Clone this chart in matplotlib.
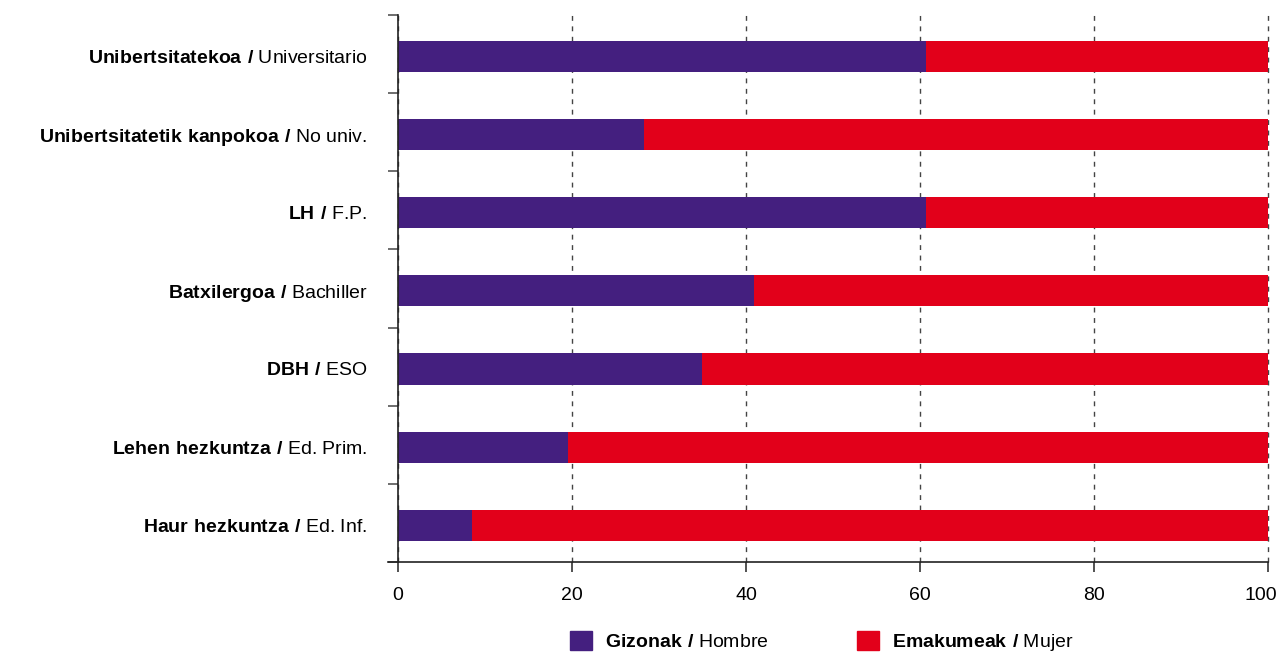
import matplotlib.pyplot as plt
import matplotlib.transforms as mtransforms
import numpy as np
from matplotlib.patches import Patch

plt.rcParams["font.family"] = ["Liberation Sans", "DejaVu Sans"]
plt.rcParams["mathtext.fontset"] = "custom"
plt.rcParams["mathtext.rm"] = "Liberation Sans"
plt.rcParams["mathtext.bf"] = "Liberation Sans:bold"

levels_eu = ["Unibertsitatekoa", "Unibertsitatetik kanpokoa", "LH", "Batxilergoa",
             "DBH", "Lehen hezkuntza", "Haur hezkuntza"]
levels_es = ["Universitario", "No univ.", "F.P.", "Bachiller", "ESO", "Ed. Prim.", "Ed. Inf."]
men = np.array([60.7, 28.3, 60.7, 40.9, 34.9, 19.5, 8.5])
women = 100 - men
x_ticks = [0, 20, 40, 60, 80, 100]

PURPLE = "#441f7f"
RED = "#e2001a"


def mixed(bold, regular):
    return r"$\bf{" + bold.replace(" ", r"\ ") + r"\ /}$ " + regular


fig = plt.figure(figsize=(12.8, 6.52), dpi=100)
ax = fig.add_axes([398 / 1280, 1 - 562 / 652, 870 / 1280, 547 / 652])

# bars sit a touch below the category centre in the original
y = np.arange(len(men)) + 0.03
ax.barh(y, men, height=0.4, color=PURPLE, zorder=2)
ax.barh(y, women, left=men, height=0.4, color=RED, zorder=2)

ax.set_xlim(0, 100)
ax.set_ylim(len(men) - 0.5, -0.5)
ax.set_xticks(x_ticks)
ax.set_yticks(y)
ax.set_yticklabels([mixed(b, r) for b, r in zip(levels_eu, levels_es)], fontsize=14)
ax.set_yticks(np.arange(len(men) + 1) - 0.5, minor=True)
ax.tick_params(axis="y", which="major", length=0, pad=22)
ax.tick_params(axis="y", which="minor", length=7, width=1.2, color="#555555")
ax.tick_params(axis="x", length=7, width=1.2, color="#333333", labelsize=14, pad=11)

ax.grid(axis="x", linestyle=(0, (3.5, 4)), color="#444444", linewidth=1.0)
ax.set_axisbelow(True)

# keep the "100" inside the picture, as the original does
fig.canvas.draw()
last = ax.get_xticklabels()[-1]
last.set_transform(last.get_transform() + mtransforms.ScaledTranslation(-7 / 100, 0, fig.dpi_scale_trans))
for line in ax.get_xgridlines():
    line.set_clip_on(False)

for side in ["top", "right"]:
    ax.spines[side].set_visible(False)
for side in ["left", "bottom"]:
    ax.spines[side].set_color("#222222")
    ax.spines[side].set_linewidth(1.2)
ax.spines["bottom"].set_bounds(-1.2, 100)
ax.spines["bottom"].set_clip_on(False)

handles = [Patch(color=PURPLE), Patch(color=RED)]
labels = [mixed("Gizonak", "Hombre"), mixed("Emakumeak", "Mujer")]
fig.legend(handles, labels, loc="center", bbox_to_anchor=(0.642, 0.015), ncol=2,
           frameon=False, fontsize=14, handlelength=1.13, handleheight=1.13,
           handletextpad=0.62, columnspacing=4.6, borderpad=0, borderaxespad=0)

fig.savefig("out.png", dpi=100)
